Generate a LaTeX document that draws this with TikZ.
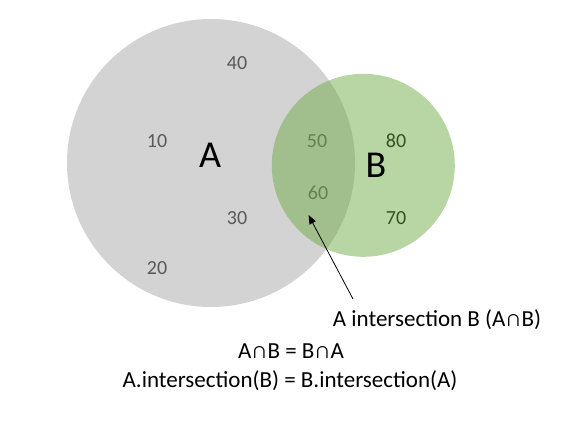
\documentclass[tikz,border=0pt]{standalone}
\usepackage{fontspec}
\setmainfont{Carlito}
\usetikzlibrary{arrows.meta}
\definecolor{setA}{RGB}{211,211,211}
\definecolor{setB}{RGB}{112,173,71}
\definecolor{numgray}{RGB}{89,89,89}
\definecolor{numin}{RGB}{100,128,82}
\definecolor{numB}{RGB}{52,82,34}
\tikzset{
  num/.style={font=\fontsize{20}{24}\selectfont, text=numgray, inner sep=0pt},
  numI/.style={num, text=numin},
  numBs/.style={num, text=numB},
  big/.style={font=\fontsize{38}{42}\selectfont, inner sep=0pt},
  txt/.style={font=\fontsize{23}{27}\selectfont, inner sep=0pt},
}
\begin{document}
\begin{tikzpicture}[x=1pt,y=-1pt]
\useasboundingbox (0,0) rectangle (576,423);
\fill[setA] (211,163) circle[radius=144];
\fill[setB, fill opacity=0.5] (363.3,165.3) circle[radius=91.5];
\node[num] (n40) at (237,63) {40};
\node[num] (n10) at (157,141) {10};
\node[num] (n30) at (237,218) {30};
\node[num] (n20) at (157,268) {20};
\node[numI] (n50) at (317,141) {50};
\node[numI] (n60) at (318,193) {60};
\node[numBs] (n80) at (396,141) {80};
\node[numBs] (n70) at (396,218) {70};
\node[big] (lA) at (210,155) {A};
\node[big] (lB) at (376,165) {B};
\node[txt] (lab) at (437,320) {A intersection B (A∩B)};
\node[txt] (eq1) at (291,351) {A∩B = B∩A};
\node[txt] (eq2) at (290,381) {A.intersection(B) = B.intersection(A)};
\coordinate (tail) at (353,299);
\coordinate (tip) at (308.5,215);
\draw[line width=0.8pt, -{Triangle[length=9pt,width=7pt]}] (tail) -- (tip);
\end{tikzpicture}
\end{document}
